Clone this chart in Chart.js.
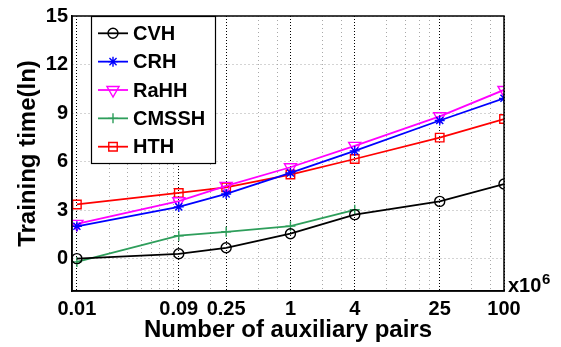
<!DOCTYPE html>
<html>
<head>
<meta charset="utf-8">
<script src="https://cdn.jsdelivr.net/npm/chart.js@4/dist/chart.umd.min.js"></script>
<style>
    html, body { margin: 0; padding: 0; background: #fff; }
    #wrap { width: 561px; height: 347px; }
</style>
</head>
<body>
<div id="wrap"><canvas id="chart" width="561" height="347"></canvas></div>
<script>
// Number of auxiliary pairs (x10^6), log axis
const pairs = [0.01, 0.09, 0.25, 1, 4, 25, 100];
const pairLabels = ['0.01', '0.09', '0.25', '1', '4', '25', '100'];

// Training time (ln) per method
const cvh   = [0, 0.3, 0.67, 1.54, 2.72, 3.54, 4.61];
const crh   = [2.0, 3.2, 4.0, 5.3, 6.66, 8.54, 9.91];
const rahh  = [2.15, 3.55, 4.5, 5.65, 6.97, 8.8, 10.43];
const cmssh = [-0.2, 1.42, 1.66, 2.01, 3.02, null, null];
const hth   = [3.35, 4.06, 4.41, 5.2, 6.16, 7.48, 8.63];

const yTicks = [0, 3, 6, 9, 12, 15];
// minor grid positions between the labelled ticks
const minorX = [0.02, 0.03, 0.04, 0.05, 0.06, 0.07, 0.08, 0.18, 0.5, 0.75, 2, 3, 8, 12, 16, 20, 50, 75];

const FONT = "'Liberation Sans', Arial, Helvetica, sans-serif";

function toPoints(vals) {
    return pairs.map((x, i) => ({ x, y: vals[i] })).filter(p => p.y !== null);
}

function series(label, vals, color, style, radius, rot) {
    return {
        label,
        data: toPoints(vals),
        borderColor: color,
        backgroundColor: 'rgba(0,0,0,0)',
        borderWidth: 1.8,
        pointStyle: style,
        pointRadius: radius,
        pointRotation: rot || 0,
        pointBorderWidth: 1.4,
        pointBorderColor: color,
        pointBackgroundColor: 'rgba(0,0,0,0)',
        tension: 0
    };
}

const isMajor = v => pairs.indexOf(v) >= 0;

// box round the plot, legend and the x10^6 note
const framePlugin = {
    id: 'frame',
    afterDatasetsDraw(chart) {
        const { ctx, chartArea: a } = chart;
        ctx.save();
        ctx.strokeStyle = '#000';
        ctx.lineWidth = 1.5;
        ctx.strokeRect(a.left, a.top, a.right - a.left, a.bottom - a.top);

        // legend
        const bx = 91, by = 16, bw = 124, bh = 147;
        ctx.fillStyle = '#fff';
        ctx.fillRect(bx, by, bw, bh);
        ctx.lineWidth = 1.2;
        ctx.strokeRect(bx + 0.5, by + 0.5, bw, bh);
        chart.data.datasets.forEach((ds, i) => {
            const y = 33.3 + i * 28.35;
            ctx.strokeStyle = ds.borderColor;
            ctx.lineWidth = ds.borderWidth;
            ctx.beginPath();
            ctx.moveTo(98, y);
            ctx.lineTo(128, y);
            ctx.stroke();
            ctx.fillStyle = 'rgba(0,0,0,0)';
            ctx.lineWidth = ds.pointBorderWidth;
            Chart.helpers.drawPoint(ctx, {
                pointStyle: ds.pointStyle,
                radius: ds.pointRadius,
                rotation: ds.pointRotation,
                borderWidth: ds.pointBorderWidth
            }, 113, y);
            ctx.fillStyle = '#000';
            ctx.font = 'bold 20px ' + FONT;
            ctx.textAlign = 'left';
            ctx.textBaseline = 'middle';
            ctx.fillText(ds.label, 133, y + 1);
        });

        // x10^6
        ctx.fillStyle = '#000';
        ctx.textAlign = 'left';
        ctx.textBaseline = 'alphabetic';
        ctx.font = 'bold 20px ' + FONT;
        ctx.fillText('x10', 508, 292);
        ctx.font = 'bold 15px ' + FONT;
        ctx.fillText('6', 542, 284);
        ctx.restore();
    }
};

new Chart(document.getElementById('chart'), {
    type: 'line',
    data: {
        datasets: [
            series('CVH', cvh, '#000000', 'circle', 5),
            series('CRH', crh, '#0000ff', 'star', 5),
            series('RaHH', rahh, '#ff00ff', 'triangle', 7, 180),
            series('CMSSH', cmssh, '#2e9e5b', 'cross', 5),
            series('HTH', hth, '#ff0000', 'rect', 6)
        ]
    },
    options: {
        responsive: false,
        animation: false,
        devicePixelRatio: 1,
        layout: { padding: { left: 0, top: 13, right: 57, bottom: 0 } },
        plugins: { legend: { display: false }, tooltip: { enabled: false } },
        scales: {
            x: {
                type: 'logarithmic',
                min: 0.009,
                max: 100,
                afterBuildTicks: s => {
                    s.ticks = [...pairs, ...minorX].sort((a, b) => a - b).map(v => ({ value: v }));
                },
                afterFit: s => { s.height = 56; },
                ticks: {
                    autoSkip: false,
                    maxRotation: 0,
                    padding: 6,
                    color: '#000',
                    font: { family: FONT, size: 20, weight: 'bold' },
                    callback: v => {
                        const i = pairs.indexOf(v);
                        return i >= 0 ? pairLabels[i] : '';
                    }
                },
                grid: {
                    drawTicks: false,
                    lineWidth: 1,
                    color: c => (c.tick && isMajor(c.tick.value)) ? '#000' : '#a8a8a8'
                },
                border: {
                    color: '#000',
                    width: 1.5,
                    dash: c => (c.tick && isMajor(c.tick.value)) ? [1, 2] : [1, 3]
                },
                title: {
                    display: true,
                    text: 'Number of auxiliary pairs',
                    color: '#000',
                    font: { family: FONT, size: 24, weight: 'bold' },
                    padding: { top: 0, bottom: 2 }
                }
            },
            y: {
                min: -2,
                max: 15,
                afterBuildTicks: s => { s.ticks = yTicks.map(v => ({ value: v })); },
                afterFit: s => { s.width = 72; },
                ticks: {
                    padding: 4,
                    color: '#000',
                    font: { family: FONT, size: 20, weight: 'bold' }
                },
                grid: { drawTicks: false, lineWidth: 1, color: '#a8a8a8' },
                border: { color: '#000', width: 1.5, dash: [1, 3] },
                title: {
                    display: true,
                    text: 'Training time(ln)',
                    color: '#000',
                    font: { family: FONT, size: 24, weight: 'bold' },
                    padding: { top: 14, bottom: 0 }
                }
            }
        }
    },
    plugins: [framePlugin]
});
</script>
</body>
</html>
